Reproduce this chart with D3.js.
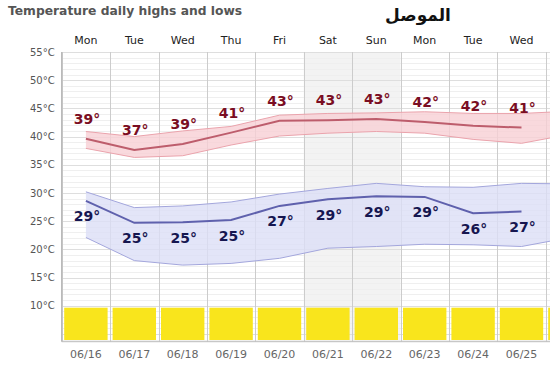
<!DOCTYPE html>
<html><head><meta charset="utf-8">
<script src="https://cdn.jsdelivr.net/npm/d3@7"></script>
<style>body{margin:0;background:#fff;}svg{display:block;}</style>
</head><body>
<script>
const days = ["Mon","Tue","Wed","Thu","Fri","Sat","Sun","Mon","Tue","Wed"];
const dates = ["06/16","06/17","06/18","06/19","06/20","06/21","06/22","06/23","06/24","06/25"];
const weekend = [false,false,false,false,false,true,true,false,false,false,false];
// high temperatures
const highLine = [39.6,37.6,38.7,40.7,42.8,42.9,43.1,42.6,41.9,41.6];
const highLabels = [39,37,39,41,43,43,43,42,42,41];
const highBandTop = [40.9,40.0,41.0,41.8,43.8,44.1,44.2,44.4,44.1,44.1,44.5];
const highBandBottom = [37.9,36.3,36.6,38.5,40.1,40.6,40.9,40.6,39.5,38.8,40.4];
// low temperatures
const lowLine = [28.6,24.7,24.8,25.2,27.7,28.9,29.4,29.3,26.4,26.7];
const lowLabels = [29,25,25,25,27,29,29,29,26,27];
const lowBandTop = [30.2,27.4,27.7,28.4,29.8,30.8,31.7,31.1,31.0,31.7,31.6];
const lowBandBottom = [22.1,18.0,17.2,17.5,18.4,20.2,20.5,20.9,20.8,20.5,22.1];
// daily bar (yellow)
const barValues = [1,1,1,1,1,1,1,1,1,1,1];
const yTicks = [10,15,20,25,30,35,40,45,50,55];

const W = 550, H = 366;
const nCols = barValues.length;
const svg = d3.select("body").append("svg").attr("width", W).attr("height", H);

const plotLeft = 61.7, colW = 48.4, plotTop = 52, plotBottom = 341.7, plotRight = 550;
const x = d3.scaleBand().domain(d3.range(nCols)).range([plotLeft, plotLeft + colW*nCols]).padding(0);
const xc = i => x(i) + x.bandwidth()/2;
const y = d3.scaleLinear().domain([10,55]).range([305.7, 52]);
const yMin = y.invert(plotBottom);

svg.append("defs").append("clipPath").attr("id","clip")
  .append("rect").attr("x",plotLeft).attr("y",plotTop).attr("width",plotRight-plotLeft).attr("height",plotBottom-plotTop);

const g = svg.append("g").attr("clip-path","url(#clip)");

// weekend shading
g.selectAll("rect.wk").data(d3.range(nCols).filter(i=>weekend[i])).join("rect")
  .attr("x", i=>x(i)).attr("y", plotTop).attr("width", x.bandwidth()).attr("height", plotBottom-plotTop)
  .attr("fill","#f3f3f3");

// minor horizontal grid (every 1°C)
const minor = d3.range(Math.ceil(yMin), 56).filter(v => v % 5 !== 0);
g.selectAll("line.minor").data(minor).join("line")
  .attr("x1",plotLeft).attr("x2",plotRight).attr("y1",d=>Math.round(y(d))+0.5).attr("y2",d=>Math.round(y(d))+0.5)
  .attr("stroke","#efefef").attr("stroke-width",1);
// major horizontal grid
g.selectAll("line.major").data(yTicks.concat([5])).join("line")
  .attr("x1",plotLeft).attr("x2",plotRight).attr("y1",d=>Math.round(y(d))+0.5).attr("y2",d=>Math.round(y(d))+0.5)
  .attr("stroke","#dedede").attr("stroke-width",1);
// vertical grid
g.selectAll("line.v").data(d3.range(nCols+1)).join("line")
  .attr("x1",i=>Math.round(plotLeft+colW*i)+0.5).attr("x2",i=>Math.round(plotLeft+colW*i)+0.5)
  .attr("y1",plotTop).attr("y2",plotBottom).attr("stroke","#cccccc");

const area = (top,bot) => d3.area().x((d,i)=>xc(i)).y0((d,i)=>y(bot[i])).y1((d,i)=>y(top[i]));
const lineT = arr => d3.line().x((d,i)=>xc(i)).y(d=>y(d))(arr);

// high band
g.append("path").attr("d", area(highBandTop,highBandBottom)(highBandTop))
  .attr("fill","#f8cfd4").attr("fill-opacity",0.8);
g.append("path").attr("d", lineT(highBandTop)).attr("fill","none").attr("stroke","#eaa3ac").attr("stroke-width",1);
g.append("path").attr("d", lineT(highBandBottom)).attr("fill","none").attr("stroke","#eaa3ac").attr("stroke-width",1);
g.append("path").attr("d", lineT(highLine)).attr("fill","none").attr("stroke","#bd5d6c").attr("stroke-width",2);

// low band
g.append("path").attr("d", area(lowBandTop,lowBandBottom)(lowBandTop))
  .attr("fill","#dcdef6").attr("fill-opacity",0.8);
g.append("path").attr("d", lineT(lowBandTop)).attr("fill","none").attr("stroke","#a3a6dc").attr("stroke-width",1);
g.append("path").attr("d", lineT(lowBandBottom)).attr("fill","none").attr("stroke","#a3a6dc").attr("stroke-width",1);
g.append("path").attr("d", lineT(lowLine)).attr("fill","none").attr("stroke","#5f61ad").attr("stroke-width",2);

// yellow bars
const barY = d3.scaleLinear().domain([0,1]).range([340, 307.7]);
g.selectAll("rect.bar").data(barValues).join("rect")
  .attr("x",(d,i)=>x(i)+2.5).attr("width",x.bandwidth()-5)
  .attr("y",d=>barY(d)).attr("height",d=>barY(0)-barY(d))
  .attr("fill","#f9e51c");

// axis lines
svg.append("line").attr("x1",plotLeft).attr("x2",plotLeft).attr("y1",plotTop).attr("y2",plotBottom).attr("stroke","#aaa");
svg.append("line").attr("x1",plotLeft).attr("x2",plotRight).attr("y1",plotBottom).attr("y2",plotBottom).attr("stroke","#bbb");

// labels
g.selectAll("text.hl").data(highLabels).join("text")
  .attr("x",(d,i)=>xc(i)+1).attr("y",(d,i)=>y(highLine[i])-20).attr("dy","0.36em")
  .attr("text-anchor","middle").attr("font-family","DejaVu Sans, sans-serif").attr("font-weight","bold")
  .attr("font-size","14px").attr("fill","#7a0d22").text(d=>d+"°");
g.selectAll("text.ll").data(lowLabels).join("text")
  .attr("x",(d,i)=>xc(i)+1).attr("y",(d,i)=>y(lowLine[i])+15.5).attr("dy","0.36em")
  .attr("text-anchor","middle").attr("font-family","DejaVu Sans, sans-serif").attr("font-weight","bold")
  .attr("font-size","14px").attr("fill","#161650").text(d=>d+"°");

// y axis
const yAxis = d3.axisLeft(y).tickValues(yTicks).tickSize(0).tickPadding(7).tickFormat(d=>d+"°C");
const ya = svg.append("g").attr("transform",`translate(${plotLeft},0)`).call(yAxis);
ya.select(".domain").remove();
ya.selectAll("text").attr("font-family","DejaVu Sans, sans-serif").attr("font-size","10px").attr("fill","#555");

// top day labels
const xLab = d3.scaleBand().domain(d3.range(days.length)).range([plotLeft, plotLeft + colW*days.length]);
const xTop = d3.axisTop(xLab).tickSize(0).tickPadding(0).tickFormat(i=>days[i]);
const xt = svg.append("g").attr("transform","translate(0,44)").call(xTop);
xt.select(".domain").remove();
xt.selectAll("text").attr("font-family","DejaVu Sans, sans-serif").attr("font-size","11px").attr("fill","#222");

// bottom date labels
const xBot = d3.axisBottom(xLab).tickSize(0).tickPadding(0).tickFormat(i=>dates[i]);
const xb = svg.append("g").attr("transform","translate(0,350)").call(xBot);
xb.select(".domain").remove();
xb.selectAll("text").attr("font-family","DejaVu Sans, sans-serif").attr("font-size","11px").attr("fill","#666");

// titles
svg.append("text").attr("x",8).attr("y",15).attr("font-family","DejaVu Sans, sans-serif").attr("font-weight","bold")
  .attr("font-size","12.3px").attr("fill","#555").text("Temperature daily highs and lows");
svg.append("text").attr("x",418).attr("y",21).attr("text-anchor","middle").attr("font-family","DejaVu Sans, sans-serif").attr("font-weight","bold")
  .attr("font-size","17px").attr("fill","#111").text("الموصل");
</script>
</body></html>
